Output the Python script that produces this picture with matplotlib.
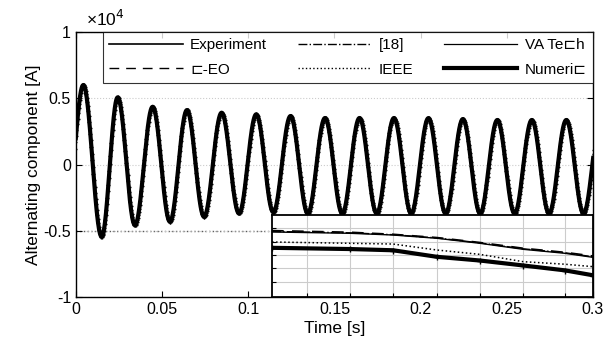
import numpy as np
import matplotlib
matplotlib.use("Agg")
import matplotlib.pyplot as plt
from matplotlib.ticker import FuncFormatter

plt.rcParams["font.family"] = ["Liberation Sans", "DejaVu Sans"]
plt.rcParams["axes.unicode_minus"] = False

# extrema of the alternating current (time s, current A)
ext_t = [-0.0057, 0.00425, 0.0149, 0.0242, 0.0342, 0.0445, 0.0545, 0.0644, 0.0743,
         0.0845, 0.0946, 0.1046, 0.1145, 0.1245, 0.1345, 0.1445, 0.1545, 0.1645,
         0.1745, 0.1845, 0.1945, 0.2045, 0.2145, 0.2245, 0.2345, 0.2445, 0.2545,
         0.2645, 0.2745, 0.2845, 0.2945, 0.3045]
ext_i = [-4000, 6000, -5450, 5070, -4570, 4360, -4310, 4110, -3940,
         3910, -3690, 3790, -3600, 3660, -3700, 3510, -3700, 3510,
         -3700, 3510, -3700, 3500, -3700, 3430, -3700, 3360, -3700,
         3360, -3700, 3360, -3700, 3360]

# inset (zoomed detail, arbitrary units)
inset_t = [0.1137, 0.159, 0.184, 0.2095, 0.2344, 0.2594, 0.2837, 0.3]
inset_vatech = [0.793, 0.777, 0.756, 0.716, 0.655, 0.582, 0.533, 0.484]
inset_ceo = [0.81, 0.79, 0.765, 0.725, 0.665, 0.595, 0.545, 0.50]
inset_18 = [0.80, 0.783, 0.76, 0.72, 0.66, 0.588, 0.54, 0.49]
inset_ieee = [0.671, 0.655, 0.646, 0.573, 0.52, 0.431, 0.40, 0.37]
inset_exp = [0.595, 0.58, 0.565, 0.485, 0.44, 0.38, 0.32, 0.26]
inset_num = [0.60, 0.585, 0.57, 0.49, 0.445, 0.385, 0.325, 0.265]

labels = ["Experiment", "[18]", "VA Te\u228fh", "\u228f-EO", "IEEE", "Numeri\u228f"]


def waveform(tp, vp, step=0.0001):
    # half-cosine segments joining successive extrema
    ts, vs = [], []
    for k in range(len(tp) - 1):
        s = np.arange(0, 1, step / (tp[k + 1] - tp[k]))
        ts.append(tp[k] + s * (tp[k + 1] - tp[k]))
        vs.append(vp[k] + (vp[k + 1] - vp[k]) * (1 - np.cos(np.pi * s)) / 2)
    return np.concatenate(ts), np.concatenate(vs)


t, i_ac = waveform(ext_t, ext_i)

fig = plt.figure(figsize=(6.03, 3.53), dpi=100)
ax = fig.add_axes([0.126, 0.1586, 0.8574, 0.7507])

h_exp, = ax.plot(t, i_ac, color="k", lw=1.2, marker="+", ms=3.5, markevery=3)
h_18, = ax.plot(t, i_ac, color="k", lw=1.0, ls="-.")
h_va, = ax.plot(t, i_ac, color="k", lw=0.9, ls="-")
h_ceo, = ax.plot(t, i_ac, color="k", lw=1.0, ls=(0, (7, 5)))
h_ieee, = ax.plot(t, i_ac, color="k", lw=1.0, ls=":")
h_num, = ax.plot(t, i_ac, color="k", lw=3.0, ls="-")

ax.set_xlim(0, 0.3)
ax.set_ylim(-10000, 10000)
ax.set_xticks([0, 0.05, 0.1, 0.15, 0.2, 0.25, 0.3])
ax.set_xticklabels(["0", "0.05", "0.1", "0.15", "0.2", "0.25", "0.3"])
ax.set_yticks([-10000, -5000, 0, 5000, 10000])
ax.yaxis.set_major_formatter(FuncFormatter(lambda v, p: f"{v / 1e4:g}"))
ax.tick_params(direction="in", top=True, right=True, labelsize=11.5, length=4)
ax.yaxis.grid(True, ls=":", color="0.8", lw=0.8)
ax.axhline(-5000, ls=":", color="0.35", lw=1.0, zorder=1)
for sp in ax.spines.values():
    sp.set_linewidth(1.0)
ax.set_xlabel("Time [s]", fontsize=12.5, labelpad=3)
ax.set_ylabel("Alternating component [A]", fontsize=12.5, labelpad=2)
ax.text(0.02, 1.01, "\u00d710$^4$", transform=ax.transAxes, fontsize=12.5,
        ha="left", va="bottom")

# column-wise fill so rows read: Experiment, [18], VA Tech / E-EO, IEEE, Numeric
leg = ax.legend([h_exp, h_ceo, h_18, h_ieee, h_va, h_num],
                [labels[0], labels[3], labels[1], labels[4], labels[2], labels[5]],
                ncol=3, loc="upper right", bbox_to_anchor=(1.0, 1.0),
                fontsize=11, handlelength=4.8, handletextpad=0.5,
                columnspacing=2.0, labelspacing=0.7, borderpad=0.4,
                frameon=True, fancybox=False, borderaxespad=0)
leg.get_frame().set_edgecolor("k")
leg.get_frame().set_linewidth(0.8)
for line in leg.get_lines():
    line.set_marker("")

# inset
axi = fig.add_axes([0.4511, 0.1586, 0.5323, 0.2323])
axi.plot(inset_t, inset_vatech, color="k", lw=1.0)
axi.plot(inset_t, inset_18, color="k", lw=1.0, ls="-.")
axi.plot(inset_t, inset_ceo, color="k", lw=1.2, ls=(0, (7, 5)))
axi.plot(inset_t, inset_ieee, color="k", lw=1.1, ls=":")
axi.plot(inset_t, inset_exp, color="k", lw=1.2, marker="+", ms=4, markevery=1)
axi.plot(inset_t, inset_num, color="k", lw=3.0)
axi.set_xlim(0.1137, 0.3)
axi.set_ylim(0, 1)
axi.set_xticks([0.134, 0.159, 0.184, 0.2095, 0.2344, 0.2594, 0.2837])
axi.set_yticks([0.18, 0.35, 0.51, 0.67, 0.84])
axi.tick_params(direction="in", labelbottom=False, labelleft=False, length=3)
axi.grid(True, color="0.8", lw=0.8)
for sp in axi.spines.values():
    sp.set_linewidth(1.3)

fig.savefig("out.png", dpi=100)
